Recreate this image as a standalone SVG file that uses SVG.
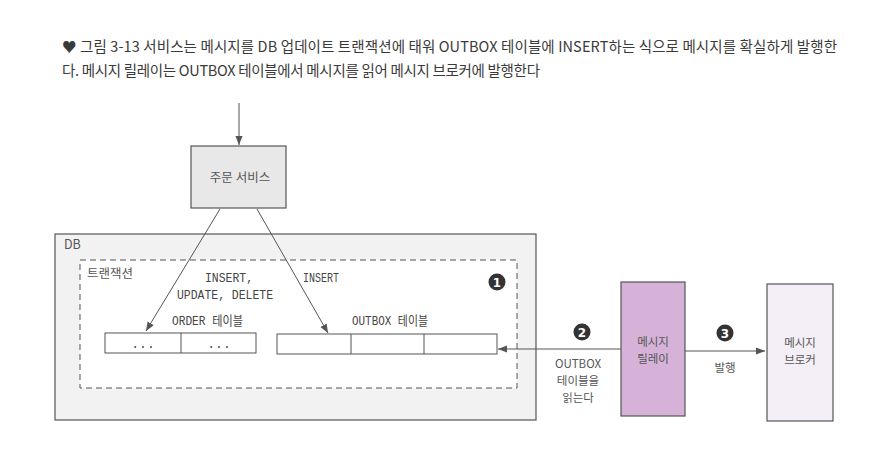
<svg xmlns="http://www.w3.org/2000/svg" width="882" height="458" viewBox="0 0 882 458">
<style>
.cap{font-family:"Noto Sans CJK KR","Noto Sans",sans-serif;font-size:14.5px;fill:#3a3a3a}
.lbl{font-family:"Noto Sans CJK KR","Noto Sans",sans-serif;font-size:12.5px;fill:#555}
.sm{font-family:"Noto Sans CJK KR","Noto Sans",sans-serif;font-size:11.5px;fill:#555}
.mono{font-family:"Liberation Mono","Noto Sans CJK KR",monospace;font-size:13px;fill:#444}
.box{stroke:#555;stroke-width:1.2}
.ln{stroke:#555;stroke-width:1;fill:none}
.num{fill:#333}
.numt{font-family:"DejaVu Sans",sans-serif;font-size:12px;font-weight:bold;fill:#fff}
</style>
<defs>
<marker id="ah" viewBox="0 0 10 10" refX="10" refY="5" markerWidth="9" markerHeight="9" markerUnits="userSpaceOnUse" orient="auto">
<path d="M0,1 L10,5 L0,9 z" fill="#555"/>
</marker>
</defs>
<rect width="882" height="458" fill="#fff"/>
<g id="caption">
<text class="cap" x="62" y="52" textLength="775" lengthAdjust="spacing">♥ 그림 3-13 서비스는 메시지를 DB 업데이트 트랜잭션에 태워 OUTBOX 테이블에 INSERT하는 식으로 메시지를 확실하게 발행한</text>
<text class="cap" x="62" y="76" textLength="478" lengthAdjust="spacing">다. 메시지 릴레이는 OUTBOX 테이블에서 메시지를 읽어 메시지 브로커에 발행한다</text>
</g>
<g id="db">
<rect class="box" x="55" y="234" width="481" height="186" fill="#f2f2f2"/>
<text class="lbl" x="64" y="249">DB</text>
</g>
<g id="transaction">
<rect x="80" y="260" width="437" height="128" fill="#fff" stroke="#555" stroke-width="1" stroke-dasharray="6,4"/>
<text class="lbl" x="87" y="278">트랜잭션</text>
</g>
<g id="order-service">
<rect class="box" x="191" y="146" width="95" height="62" fill="#e8e8e8"/>
<text class="lbl" x="240" y="182" text-anchor="middle">주문 서비스</text>
</g>
<g id="order-table">
<text class="mono" x="172" y="325" textLength="71" lengthAdjust="spacingAndGlyphs">ORDER 테이블</text>
<rect x="105" y="333" width="151" height="20" fill="#fff" stroke="#555" stroke-width="1"/>
<line class="ln" x1="181" y1="333" x2="181" y2="353"/>
<text class="mono" x="143" y="348" text-anchor="middle">...</text>
<text class="mono" x="219" y="348" text-anchor="middle">...</text>
</g>
<g id="outbox-table">
<text class="mono" x="352" y="325" textLength="76" lengthAdjust="spacingAndGlyphs">OUTBOX 테이블</text>
<rect x="277" y="334" width="220" height="20" fill="#fff" stroke="#555" stroke-width="1"/>
<line class="ln" x1="351" y1="334" x2="351" y2="354"/>
<line class="ln" x1="424" y1="334" x2="424" y2="354"/>
</g>
<g id="message-relay">
<rect class="box" x="621" y="282" width="64" height="134" fill="#d6b2d8"/>
<text class="sm" x="653" y="346" text-anchor="middle">메시지</text>
<text class="sm" x="653" y="363" text-anchor="middle">릴레이</text>
</g>
<g id="message-broker">
<rect class="box" x="767" y="284" width="66" height="137" fill="#f4eef6"/>
<text class="sm" x="800" y="347" text-anchor="middle">메시지</text>
<text class="sm" x="800" y="364" text-anchor="middle">브로커</text>
</g>
<g id="connectors">
<line class="ln" x1="239" y1="103" x2="239" y2="145" marker-end="url(#ah)"/>
<line class="ln" x1="220" y1="209" x2="146" y2="331" marker-end="url(#ah)"/>
<line class="ln" x1="257" y1="209" x2="328" y2="333" marker-end="url(#ah)"/>
<line class="ln" x1="621" y1="349" x2="498" y2="349" marker-end="url(#ah)"/>
<line class="ln" x1="685" y1="351" x2="765" y2="351" marker-end="url(#ah)"/>
<text class="mono" x="205" y="282" textLength="48" lengthAdjust="spacingAndGlyphs">INSERT,</text>
<text class="mono" x="177" y="299" textLength="96" lengthAdjust="spacingAndGlyphs">UPDATE, DELETE</text>
<text class="mono" x="303" y="282" textLength="36" lengthAdjust="spacingAndGlyphs">INSERT</text>
<text class="sm" x="578" y="368" text-anchor="middle">OUTBOX</text>
<text class="sm" x="578" y="385" text-anchor="middle">테이블을</text>
<text class="sm" x="578" y="402" text-anchor="middle">읽는다</text>
<text class="sm" x="725" y="372" text-anchor="middle">발행</text>
</g>
<g id="markers">
<circle class="num" cx="497" cy="282" r="8.5"/>
<text class="numt" x="497" y="286.5" text-anchor="middle">1</text>
<circle class="num" cx="582" cy="332" r="8.5"/>
<text class="numt" x="582" y="336.5" text-anchor="middle">2</text>
<circle class="num" cx="725" cy="333" r="8.5"/>
<text class="numt" x="725" y="337.5" text-anchor="middle">3</text>
</g>
</svg>
